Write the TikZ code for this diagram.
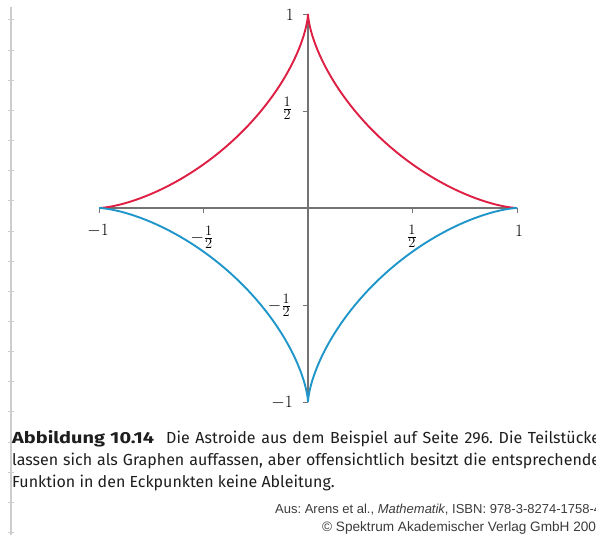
\documentclass[tikz,border=0pt]{standalone}
\usepackage{fontspec}
\usepackage{graphicx}
\newfontfamily\capfont{Fira Sans}
\newfontfamily\srcfont{Liberation Sans}
\definecolor{curvered}{RGB}{222,30,66}
\definecolor{curveblue}{RGB}{30,150,202}
\definecolor{axisgray}{RGB}{115,115,115}
\definecolor{margingray}{RGB}{205,205,205}
\definecolor{captext}{RGB}{30,30,30}
\definecolor{srctext}{RGB}{60,60,60}
\tikzset{
  axisline/.style={draw=axisgray, line width=1.1pt},
  tickline/.style={draw=axisgray, line width=0.9pt},
  astroidred/.style={draw=curvered, line width=1.9pt},
  astroidblue/.style={draw=curveblue, line width=1.9pt},
  ticklabel/.style={inner sep=0pt, font=\fontsize{16}{19}\selectfont},
  fraclabel/.style={inner sep=0pt, font=\fontsize{19}{22}\selectfont},
  captionline/.style={anchor=base west, inner sep=0pt, text=captext, font=\capfont\fontsize{16}{18}\selectfont},
  sourceline/.style={anchor=base west, inner sep=0pt, text=srctext, font=\srcfont\fontsize{13}{15}\selectfont},
}
\newcommand{\justline}[1]{\hbox to 588pt{\spaceskip=0.26em plus 0.5em minus 0.16em\relax #1}}
\frenchspacing
\begin{document}
\begin{tikzpicture}[x=1pt,y=-1pt]
\useasboundingbox (0,0) rectangle (596,535);
\clip (0,0) rectangle (596,535);
\fill[white] (0,0) rectangle (596,535);
% margin rule with ticks
\draw[margingray, line width=1.4pt] (11,7) -- (11,535);
\foreach \i in {0,...,17}{
  \draw[margingray, line width=1pt] (8,{20+30.15*\i}) -- (14,{20+30.15*\i});
}
% astroid plot
\begin{scope}[shift={(308pt,-208pt)}, x=209pt, y=194pt]
  \coordinate (O) at (0,0);
  \coordinate (xl) at (-1,0);
  \coordinate (xr) at (1,0);
  \coordinate (yt) at (0,1);
  \coordinate (yb) at (0,-1);
  \draw[axisline] (xl) -- (xr);
  \draw[axisline] (yt) -- (yb);
  \foreach \v in {-1,-0.5,0.5,1}{
    \draw[tickline] (\v,0) -- ++(0,-5pt);
    \draw[tickline] (0,\v) -- ++(-5pt,0);
  }
  \draw[astroidred] plot[domain=0:180, samples=241, smooth]
    ({cos(\x)*cos(\x)*cos(\x)}, {sin(\x)*sin(\x)*sin(\x)});
  \draw[astroidblue] plot[domain=180:360, samples=241, smooth]
    ({cos(\x)*cos(\x)*cos(\x)}, {sin(\x)*sin(\x)*sin(\x)});
\end{scope}
% tick labels
\node[ticklabel, anchor=east] (ly1) at (294,15) {$1$};
\node[fraclabel, anchor=east] (lyh) at (292,108) {$\frac{1}{2}$};
\node[fraclabel, anchor=east] (lymh) at (291,305) {$-\frac{1}{2}$};
\node[ticklabel, anchor=east] (lym1) at (293,403) {$-1$};
\node[ticklabel] (lxm1) at (98,231) {$-1$};
\node[fraclabel] (lxmh) at (202,237) {$-\frac{1}{2}$};
\node[fraclabel] (lxh) at (412,236) {$\frac{1}{2}$};
\node[ticklabel] (lx1) at (519,231) {$1$};
% caption
\node[captionline] (cap1) at (12,443) {\justline{\resizebox{142pt}{\height}{\textbf{Abbildung 10.14}}\hspace{12pt}Die Astroide aus dem Beispiel auf Seite 296. Die Teilstücke}};
\node[captionline] (cap2) at (12,465) {\justline{lassen sich als Graphen auffassen, aber offensichtlich besitzt die entsprechende}};
\node[captionline] (cap3) at (12,487) {Funktion in den Eckpunkten keine Ableitung.};
\node[sourceline] (src1) at (275,513) {Aus: Arens et al., \textit{Mathematik}, ISBN: 978-3-8274-1758-4};
\node[sourceline, font=\srcfont\fontsize{13.6}{15}\selectfont] (src2) at (322,531) {© Spektrum Akademischer Verlag GmbH 2008};
\end{tikzpicture}
\end{document}
